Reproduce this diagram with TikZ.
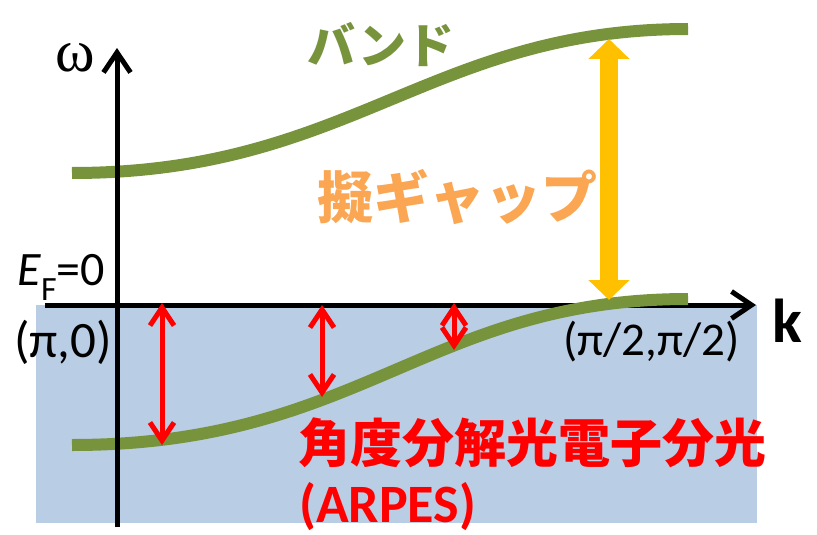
\documentclass[tikz,border=0pt]{standalone}
\usepackage{fontspec}
\setmainfont{Carlito}
\newfontfamily\jpfont{Noto Sans CJK JP}
\newfontfamily\omegafont{Liberation Serif}
\usetikzlibrary{arrows.meta}
\definecolor{bandgreen}{HTML}{77933C}
\definecolor{fillblue}{HTML}{B9CDE5}
\definecolor{gapyellow}{HTML}{FFC000}
\definecolor{gaporange}{HTML}{FAA652}
\definecolor{arpesred}{HTML}{FF0000}
\tikzset{
  axisline/.style={line width=5pt, black, -{Straight Barb[length=20pt,width=27pt]}},
  bandline/.style={line width=12pt, bandgreen},
  probe/.style={line width=5pt, arpesred, {Straight Barb[length=18pt,width=24pt]}-{Straight Barb[length=18pt,width=24pt]}},
  gaparrow/.style={line width=18pt, gapyellow, {Triangle[length=20pt,width=40pt]}-{Triangle[length=20pt,width=40pt]}},
  lbl/.style={inner sep=0pt, anchor=base west},
  jplbl/.style={inner sep=0pt, anchor=center, font=\jpfont\bfseries}
}
\begin{document}
\begin{tikzpicture}[x=1pt,y=-1pt]
\useasboundingbox (0,0) rectangle (817,535);
% occupied region
\fill[fillblue] (36,305) rectangle (757,523);
% coordinates
\coordinate (origin) at (117,305);
\coordinate (kleft) at (45,305);
\coordinate (ktip) at (756,305);
\coordinate (wbot) at (117,527);
\coordinate (wtip) at (117,48);
\coordinate (ua) at (72,173);
\coordinate (ub) at (350,173);
\coordinate (uc) at (430,29);
\coordinate (ud) at (688,29);
\coordinate (la) at (72,445);
\coordinate (lb) at (360,445);
\coordinate (lc) at (428,299);
\coordinate (ld) at (688,299);
\coordinate (r1t) at (162,303);
\coordinate (r1b) at (162,445);
\coordinate (r2t) at (322,305);
\coordinate (r2b) at (322,397);
\coordinate (r3t) at (454,303);
\coordinate (r3b) at (454,350);
\coordinate (ytop) at (609,39);
\coordinate (ybot) at (609,300);
% axes and bands
\draw[axisline] (kleft) -- (ktip);
\draw[bandline] (ua) .. controls (ub) and (uc) .. (ud);
\draw[bandline] (la) .. controls (lb) and (lc) .. (ld);
\draw[axisline] (wbot) -- (wtip);
% arrows
\draw[probe] (r1t) -- (r1b);
\draw[probe] (r2t) -- (r2b);
\draw[probe] (r3t) -- (r3b);
\draw[gaparrow] (ytop) -- (ybot);
% labels
\node[lbl, font=\omegafont\fontsize{60}{60}\selectfont] (omega) at (55,72) {ω};
\node[lbl, font=\fontsize{48}{48}\selectfont] (ef) at (17,285) {\textit{E}\raisebox{-15pt}{\fontsize{34}{34}\selectfont F}=0};
\node[lbl, font=\fontsize{51}{51}\selectfont] (gamma) at (14,357) {(π,0)};
\node[lbl, font=\fontsize{47}{47}\selectfont] (mpoint) at (563,355) {(π/2,π/2)};
\node[lbl, font=\bfseries\fontsize{62}{62}\selectfont] (klabel) at (772,342) {k};
\node[jplbl, text=bandgreen, font=\jpfont\bfseries\fontsize{48}{48}\selectfont] (band) at (381,45) {バンド};
\node[jplbl, text=gaporange, font=\jpfont\bfseries\fontsize{56}{56}\selectfont] (pgap) at (457,197) {擬ギャップ};
\node[jplbl, text=arpesred, font=\jpfont\bfseries\fontsize{52}{52}\selectfont] (arpesjp) at (532,443) {角度分解光電子分光};
\node[lbl, text=arpesred, font=\bfseries\fontsize{54}{54}\selectfont] (arpesen) at (299,522) {(ARPES)};
\end{tikzpicture}
\end{document}
